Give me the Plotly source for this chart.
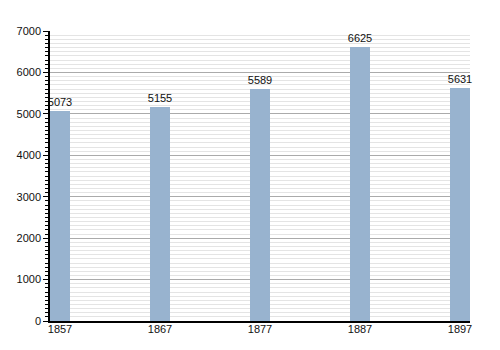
import plotly.graph_objects as go

years = [1857, 1867, 1877, 1887, 1897]
population = [5073, 5155, 5589, 6625, 5631]
y_ticks = [0, 1000, 2000, 3000, 4000, 5000, 6000, 7000]

fig = go.Figure()
fig.add_trace(go.Bar(
    x=years, y=population, width=2,
    marker=dict(color="#98b3cf", line=dict(width=0)),
    text=[str(v) for v in population], textposition="outside",
    constraintext="none",
    textfont=dict(size=11, color="#111", family="Liberation Sans, Arial, sans-serif"),
    cliponaxis=False,
))
fig.update_layout(
    width=500, height=350,
    margin=dict(l=50, r=30, t=31, b=29),
    plot_bgcolor="white", paper_bgcolor="white",
    showlegend=False,
    font=dict(family="Liberation Sans, Arial, sans-serif", size=11, color="#111"),
    bargap=0,
)
fig.update_xaxes(
    range=[1856, 1898], tickvals=years, ticktext=[str(y) for y in years],
    showgrid=False, zeroline=False, showline=True, linecolor="#000", linewidth=1.5,
    ticks="", ticklabelstandoff=-3,
)
fig.update_yaxes(
    range=[0, 7000], tickvals=y_ticks,
    showgrid=True, gridcolor="#aaaaaa", gridwidth=1, zeroline=False,
    showline=True, linecolor="#000", linewidth=1.5,
    ticks="outside", ticklen=5, tickcolor="#000", tickwidth=1,
    minor=dict(dtick=100, showgrid=True, gridcolor="#e4e4e4", gridwidth=1,
               ticks="outside", ticklen=3, tickcolor="#000"),
)
fig.write_html("out.html")
